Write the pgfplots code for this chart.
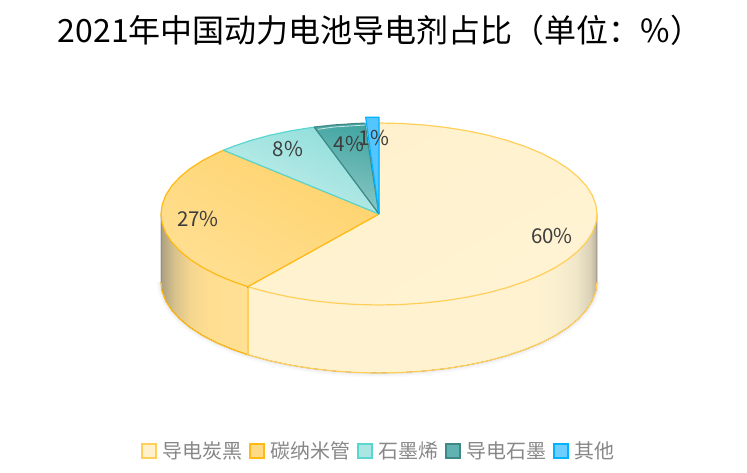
\documentclass[border=0pt]{standalone}
\usepackage{fontspec}
\setmainfont{Noto Sans CJK SC}
\usepackage{pgfplots}
\usepackage{pgfplotstable}
\pgfplotsset{compat=1.18}

\definecolor{yellowA}{HTML}{FFF1CC}
\definecolor{yellowB}{HTML}{FFCF5A}
\definecolor{orangeA}{HTML}{FFD36C}
\definecolor{orangeB}{HTML}{FFB914}
\definecolor{tealA}{HTML}{8FDEDA}
\definecolor{tealB}{HTML}{5AD6D0}
\definecolor{darkA}{HTML}{44A6A2}
\definecolor{darkB}{HTML}{3F8886}
\definecolor{blueA}{HTML}{55C5FF}
\definecolor{blueB}{HTML}{00B2FF}

% side walls, stretched to the bounding box (25bp to 75bp)
\pgfdeclarehorizontalshading{wallleft}{100bp}{rgb(0bp)=(.68,.63,.50);
  rgb(25bp)=(.68,.63,.50);
  rgb(27bp)=(.72,.66,.52);
  rgb(33bp)=(.85,.76,.55);
  rgb(42bp)=(.96,.84,.56);
  rgb(53bp)=(1,.87,.57);
  rgb(75bp)=(1,.88,.58);
  rgb(100bp)=(1,.88,.58)}
\pgfdeclarehorizontalshading{wallright}{100bp}{rgb(0bp)=(1,.95,.82);
  rgb(65.4bp)=(1,.95,.82);
  rgb(69bp)=(.98,.94,.81);
  rgb(71.8bp)=(.95,.91,.79);
  rgb(74bp)=(.86,.82,.72);
  rgb(75bp)=(.73,.69,.61);
  rgb(100bp)=(.73,.69,.61)}

% lower rim of the cylinder, in picture pixels
\pgfplotstableread{
x y
597 282
595.8 291.5
592.2 300.9
586.3 310.1
578.1 319
567.8 327.5
555.4 335.5
541 342.9
524.9 349.6
507.1 355.6
488 360.8
467.7 365.1
446.4 368.5
424.3 371
401.8 372.5
379 373
356.2 372.5
333.7 371
311.6 368.5
290.3 365.1
270 360.8
250.9 355.6
247.8 354.7
233.1 349.6
217 342.9
202.6 335.5
190.2 327.5
179.9 319
171.7 310.1
165.8 300.9
162.2 291.5
161 282
}\bottomrim

\begin{document}
\begin{tikzpicture}
\begin{axis}[
  width=747pt, height=473pt,
  scale only axis,
  xmin=0, xmax=747, ymin=0, ymax=473,
  y dir=reverse,
  hide axis,
  clip=false,
  /pgf/number format/assume math mode=true,
  title={2021年中国动力电池导电剂占比（单位：\%）},
  title style={at={(axis cs:380,36)}, anchor=center, yshift=0pt,
    font=\fontsize{32}{38}\selectfont},
  legend columns=-1,
  legend style={at={(axis cs:141,451)}, anchor=west, draw=none, fill=none,
    inner sep=0pt, font=\fontsize{20}{24}\selectfont, text=black!47,
    /tikz/every even column/.append style={column sep=5pt}},
  legend image code/.code={\draw[#1] (0pt,-7pt) rectangle (14pt,7pt);
    \path[draw=none] (0pt,0pt) -- (18pt,0pt);},
  slice/.style={forget plot, line join=round},
]

% keeps the page as large as the whole canvas
\addplot[forget plot, draw=none] coordinates {(0,0) (747,473)};

% soft shadow under the cylinder
\addplot[slice, draw=gray, opacity=.035, line width=9pt] table {\bottomrim};
\addplot[slice, draw=gray, opacity=.05, line width=6pt] table {\bottomrim};
\addplot[slice, draw=gray, opacity=.08, line width=3pt] table {\bottomrim};

% walls
\addplot[slice, shade, shading=wallright] coordinates {
 (597,214) (597,282) (595.8,291.5) (592.2,300.9) (586.3,310.1) (578.1,319)
 (567.8,327.5) (555.4,335.5) (541,342.9) (524.9,349.6) (507.1,355.6)
 (488,360.8) (467.7,365.1) (446.4,368.5) (424.3,371) (401.8,372.5) (379,373)
 (356.2,372.5) (333.7,371) (311.6,368.5) (290.3,365.1) (270,360.8)
 (250.9,355.6) (247.8,354.7) (247.8,286.7) (597,214)};
\addplot[slice, shade, shading=wallleft] coordinates {
 (247.8,286.7) (247.8,354.7) (233.1,349.6) (217,342.9) (202.6,335.5)
 (190.2,327.5) (179.9,319) (171.7,310.1) (165.8,300.9) (162.2,291.5)
 (161,282) (161,214) (247.8,286.7)};
\addplot[slice, draw=yellowB, line width=1.2pt, restrict x to domain=247.8:597] table {\bottomrim};
\addplot[slice, draw=orangeB, line width=1.2pt, restrict x to domain=161:247.8] table {\bottomrim};

% 60%
\addplot[slice, draw=yellowB, line width=1.2pt, shade, top color=yellowA, bottom color=yellowA!85!white, shading angle=30] coordinates {
 (379,214) (379,123) (401.8,123.5) (424.3,125) (446.4,127.5) (467.7,130.9)
 (488,135.2) (507.1,140.4) (524.9,146.4) (541,153.1) (555.4,160.5)
 (567.8,168.5) (578.1,177) (586.3,185.9) (592.2,195.1) (595.8,204.5) (597,214)
 (595.8,223.5) (592.2,232.9) (586.3,242.1) (578.1,251) (567.8,259.5)
 (555.4,267.5) (541,274.9) (524.9,281.6) (507.1,287.6) (488,292.8)
 (467.7,297.1) (446.4,300.5) (424.3,303) (401.8,304.5) (379,305) (356.2,304.5)
 (333.7,303) (311.6,300.5) (290.3,297.1) (270,292.8) (250.9,287.6)
 (247.8,286.7) (379,214)};

% 27%
\addplot[slice, draw=orangeB, line width=1.2pt, shade, top color=orangeA, bottom color=orangeA!60!yellowA, shading angle=-30] coordinates {
 (379,214) (247.8,286.7) (233.1,281.6) (217,274.9) (202.6,267.5) (190.2,259.5)
 (179.9,251) (171.7,242.1) (165.8,232.9) (162.2,223.5) (161,214) (162.2,204.5)
 (165.8,195.1) (171.7,185.9) (179.9,177) (190.2,168.5) (202.6,160.5) (217,153.1)
 (223.5,150.2) (379,214)};

% 8%
\addplot[slice, draw=tealB, line width=1.2pt, shade, top color=tealA, bottom color=tealA!50!white, shading angle=-25] coordinates {
 (379,214) (223.5,150.2) (233.1,146.4) (250.9,140.4) (270,135.2) (290.3,130.9)
 (311.6,127.5) (314.2,127.1) (379,214)};

% 4%
\addplot[slice, draw=darkB, line width=1.2pt, shade, top color=darkA, bottom color=darkA!60!white, shading angle=-15] coordinates {
 (379,214) (314.2,127.1) (333.7,125) (356.2,123.5) (365,123.2) (379,214)};
\addplot[slice, draw=white, opacity=.7, line width=.8pt] coordinates {
 (318,129.3) (334,127) (356,125.6) (366,125)};

% 1%, lifted out of the pie
\addplot[slice, draw=blueB, line width=1.2pt, fill=blueA] coordinates {
 (379,214) (365.7,117.3) (379,117.3) (379,214)};

% seam between the two walls
\addplot[slice, draw=yellowB, line width=1.6pt, line cap=butt] coordinates {(247.8,287.5) (247.8,354.7)};

% value labels
\addplot[forget plot, only marks, mark=none, point meta=explicit,
  nodes near coords={\pgfmathprintnumber{\pgfplotspointmeta}\%},
  nodes near coords align={center},
  every node near coord/.append style={anchor=center, inner sep=0pt,
    font=\fontsize{20.5}{24}\selectfont, text=black!76}]
 coordinates {(552,236) [60] (198,219) [27] (288,149) [8] (349,144) [4] (374,138) [1]};

% legend swatches
\addlegendimage{draw=yellowB, line width=2pt, fill=yellowA}
\addlegendentry{导电炭黑}
\addlegendimage{draw=orangeB, line width=2pt, fill=orangeA!75!yellowA}
\addlegendentry{碳纳米管}
\addlegendimage{draw=tealB, line width=2pt, fill=tealA!75!white}
\addlegendentry{石墨烯}
\addlegendimage{draw=darkB, line width=2pt, fill=darkA!85!white}
\addlegendentry{导电石墨}
\addlegendimage{draw=blueB, line width=2pt, fill=blueA!85!white}
\addlegendentry{其他}
\end{axis}
\end{tikzpicture}
\end{document}
